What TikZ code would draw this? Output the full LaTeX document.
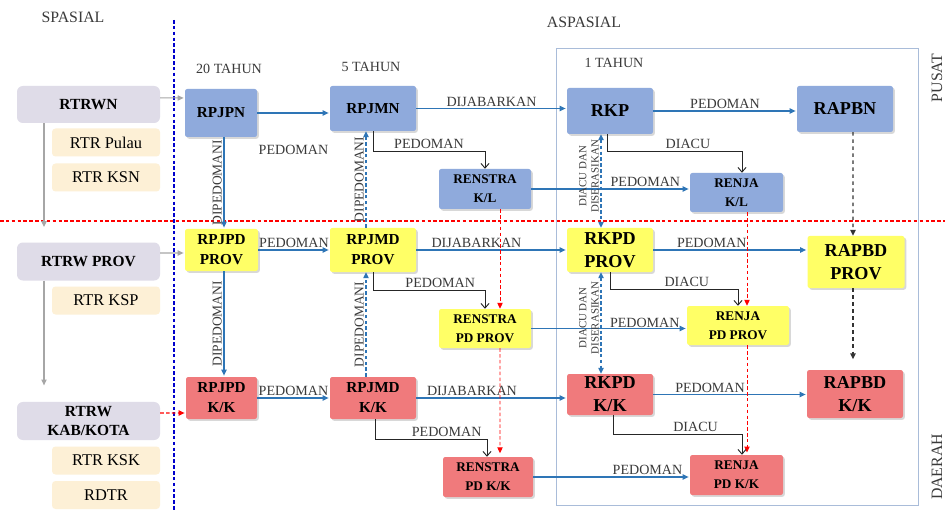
\documentclass[tikz,border=0pt]{standalone}
\usepackage{fontspec}
\setmainfont{Liberation Serif}
\usepackage{tikz}
\usetikzlibrary{arrows.meta, positioning, shadows}

\definecolor{pusatblue}{HTML}{8FAADC}
\definecolor{provyellow}{HTML}{FFFF66}
\definecolor{kkred}{HTML}{F07A7C}
\definecolor{lavender}{HTML}{DFDCE8}
\definecolor{peach}{HTML}{FDF0D6}
\definecolor{arrowblue}{HTML}{2E75B6}
\definecolor{framecol}{HTML}{A9BCD9}
\definecolor{labelgray}{HTML}{3A3A3A}

\tikzset{
  sz/.style 2 args={minimum width=#1*0.03cm, minimum height=#2*0.03cm}
}

\begin{document}
\begin{tikzpicture}[
  x=0.03cm, y=-0.03cm,
  plan/.style={rectangle, rounded corners=2pt, align=center, inner sep=1pt,
    drop shadow={shadow xshift=1.5pt, shadow yshift=-1.5pt, opacity=0.3}},
  pusat/.style={plan, fill=pusatblue},
  prov/.style={plan, fill=provyellow},
  kk/.style={plan, fill=kkred},
  fbig/.style={font=\bfseries\fontsize{15.5}{19.5}\selectfont},
  fmid/.style={font=\bfseries\fontsize{13}{17}\selectfont},
  fsmall/.style={font=\bfseries\fontsize{11.3}{16}\selectfont},
  spasial/.style={rectangle, rounded corners=5pt, fill=lavender, align=center,
    font=\bfseries\fontsize{13.2}{17}\selectfont},
  subplan/.style={rectangle, rounded corners=3pt, fill=peach,
    font=\fontsize{14}{16}\selectfont, sz={108}{28}},
  title/.style={font=\fontsize{13.5}{15}\selectfont, text=labelgray},
  period/.style={font=\fontsize{12}{14}\selectfont, text=labelgray},
  lbl/.style={font=\fontsize{12}{13}\selectfont, text=labelgray, inner sep=1.5pt},
  vlbl/.style={lbl, rotate=90, anchor=south, font=\fontsize{11.5}{13}\selectfont},
  dlbl/.style={lbl, rotate=90, anchor=south, align=center, font=\fontsize{9.3}{10.5}\selectfont},
  tip/.style={-{Triangle[length=5pt, width=4.5pt]}},
  arrow/.style={tip, draw=arrowblue, line width=0.9pt, shorten >=1pt},
  uparrow/.style={tip, draw=arrowblue, line width=0.9pt, densely dashed},
  twoway/.style={{Triangle[length=5pt, width=4.5pt]}-{Triangle[length=5pt, width=4.5pt]},
    draw=arrowblue, line width=0.9pt, densely dashed},
  elbow/.style={-{Straight Barb[length=4pt, width=7pt]}, draw=black!85, line width=0.8pt},
  reddash/.style={tip, draw=red, line width=0.8pt, densely dashed},
  blackdash/.style={tip, draw=black!80, line width=1.2pt, dashed},
  grayarrow/.style={tip, draw=gray!70, line width=0.9pt},
  redarrow/.style={tip, draw=red, line width=0.9pt, densely dashed}
]

\useasboundingbox[fill=white] (0,0) rectangle (945,510);

% Titles
\node[title] (spasialtitle) at (73,17) {SPASIAL};
\node[title] (aspasialtitle) at (584,22) {ASPASIAL};
\node[period] (t20) at (229,69) {20 TAHUN};
\node[period] (t5) at (371,67) {5 TAHUN};
\node[period] (t1) at (614,63) {1 TAHUN};
\node[title, rotate=90] (pusattitle) at (937,78) {PUSAT};
\node[title, rotate=90] (daerahtitle) at (937,467) {DAERAH};

% Frame and dividers
\draw[framecol, line width=0.6pt] (556,48) rectangle (918,505);
\draw[blue!80!black, densely dashed, line width=1pt] (174,20) -- (174,510);
\draw[red, densely dashed, line width=0.9pt] (0,221) -- (945,221);

% Spasial nodes
\node[spasial, sz={143}{37}] (rtrwn) at (88.5,104.5) {RTRWN};
\node[subplan] (rtrpulau) at (106,142.5) {RTR Pulau};
\node[subplan] (rtrksn) at (106,177.5) {RTR KSN};
\node[spasial, sz={143}{38}] (rtrwprov) at (88.5,261.5) {RTRW PROV};
\node[subplan] (rtrksp) at (106,300.5) {RTR KSP};
\node[spasial, sz={143}{38}] (rtrwkk) at (88.5,421) {RTRW\\KAB/KOTA};
\node[subplan] (rtrksk) at (106,460.5) {RTR KSK};
\node[subplan] (rdtr) at (106,495) {RDTR};

% Pusat
\node[pusat, fmid, sz={72}{48}] (rpjpn) at (221,113) {RPJPN};
\node[pusat, fmid, sz={86}{45}] (rpjmn) at (373,108.5) {RPJMN};
\node[pusat, fsmall, sz={92}{40}] (renstrakl) at (485,189) {RENSTRA\\K/L};
\node[pusat, fbig, sz={86}{46}] (rkp) at (610,111) {RKP};
\node[pusat, fsmall, sz={93}{39}] (renjakl) at (736.5,192.5) {RENJA\\K/L};
\node[pusat, fbig, sz={96}{46}] (rapbn) at (845,109) {RAPBN};

% Provinsi
\node[prov, fmid, sz={73}{42}] (rpjpdprov) at (221.5,250) {RPJPD\\PROV};
\node[prov, fmid, sz={86}{44}] (rpjmdprov) at (373,250) {RPJMD\\PROV};
\node[prov, fsmall, sz={92}{39}] (renstraprov) at (485,328.5) {RENSTRA\\PD PROV};
\node[prov, fbig, sz={86}{44}] (rkpdprov) at (610,250) {RKPD\\PROV};
\node[prov, fsmall, sz={102}{39}] (renjaprov) at (738,325.5) {RENJA\\PD PROV};
\node[prov, fbig, sz={97}{52}] (rapbdprov) at (856,262) {RAPBD\\PROV};

% Kabupaten/Kota
\node[kk, fmid, sz={71}{42}] (rpjpdkk) at (221.5,398) {RPJPD\\K/K};
\node[kk, fmid, sz={86}{42}] (rpjmdkk) at (373,398) {RPJMD\\K/K};
\node[kk, fsmall, sz={90}{40}] (renstrakk) at (488,477) {RENSTRA\\PD K/K};
\node[kk, fbig, sz={86}{41}] (rkpdkk) at (610,394.5) {RKPD\\K/K};
\node[kk, fsmall, sz={93}{40}] (renjakk) at (736.5,475) {RENJA\\PD K/K};
\node[kk, fbig, sz={96}{48}] (rapbdkk) at (855,394) {RAPBD\\K/K};

% Spasial arrows
\draw[grayarrow, shorten >=13pt] ([xshift=-1.335cm]rtrwn.south) -- ([xshift=-1.335cm]rtrwprov.north);
\draw[grayarrow, shorten >=14pt] ([xshift=-1.335cm]rtrwprov.south) -- ([xshift=-1.335cm]rtrwkk.north);
\draw[grayarrow, shorten >=1pt] ([yshift=0.2cm]rtrwn.east) -- ([yshift=0.45cm]rpjpn.west);
\draw[grayarrow, shorten >=1pt] ([yshift=0.255cm]rtrwprov.east) -- ([yshift=-0.09cm]rpjpdprov.west);
\draw[redarrow, shorten >=1pt] ([yshift=0.24cm]rtrwkk.east) -- ([yshift=-0.45cm]rpjpdkk.west);

% Horizontal arrows
\draw[arrow] (rpjpn.east) -- node[lbl, yshift=-1.1cm] {PEDOMAN} (rpjpn.east -| rpjmn.west);
\draw[arrow] (rpjmn.east) -- node[lbl, above] {DIJABARKAN} (rpjmn.east -| rkp.west);
\draw[arrow] (rkp.east) -- node[lbl, above] {PEDOMAN} (rkp.east -| rapbn.west);
\draw[arrow] (renstrakl.east) -- node[lbl, above, pos=0.72] {PEDOMAN} (renstrakl.east -| renjakl.west);

\draw[arrow] (rpjpdprov.east) -- node[lbl, above] {PEDOMAN} (rpjpdprov.east -| rpjmdprov.west);
\draw[arrow] (rpjmdprov.east) -- node[lbl, above, pos=0.4] {DIJABARKAN} (rpjmdprov.east -| rkpdprov.west);
\draw[arrow] (rkpdprov.east) -- node[lbl, above, pos=0.38] {PEDOMAN} (rkpdprov.east -| rapbdprov.west);
\draw[arrow] (renstraprov.east) -- node[lbl, above, pos=0.73, inner sep=0.5pt] {PEDOMAN} (renstraprov.east -| renjaprov.west);

\draw[arrow] (rpjpdkk.east) -- node[lbl, above] {PEDOMAN} (rpjpdkk.east -| rpjmdkk.west);
\draw[arrow] (rpjmdkk.east) -- node[lbl, above, pos=0.37] {DIJABARKAN} (rpjmdkk.east -| rkpdkk.west);
\draw[arrow] (rkpdkk.east) -- node[lbl, above, pos=0.37] {PEDOMAN} (rkpdkk.east -| rapbdkk.west);
\draw[arrow] (renstrakk.east) -- node[lbl, above, pos=0.73] {PEDOMAN} (renstrakk.east -| renjakk.west);

% Vertical arrows
\draw[arrow] ([xshift=0.09cm]rpjpn.south) -- node[vlbl] {DIPEDOMANI} ([xshift=0.075cm]rpjpdprov.north);
\draw[arrow] ([xshift=0.075cm]rpjpdprov.south) -- node[vlbl] {DIPEDOMANI} ([xshift=0.075cm]rpjpdkk.north);
\draw[uparrow] ([xshift=-0.21cm]rpjmdprov.north) -- node[vlbl] {DIPEDOMANI} ([xshift=-0.21cm]rpjmn.south);
\draw[uparrow] ([xshift=-0.21cm]rpjmdkk.north) -- node[vlbl] {DIPEDOMANI} ([xshift=-0.21cm]rpjmdprov.south);
\draw[twoway] ([xshift=-0.27cm]rkp.south) -- node[dlbl, pos=0.45] {DIACU DAN\\DISERASIKAN} ([xshift=-0.27cm]rkpdprov.north);
\draw[twoway] ([xshift=-0.27cm]rkpdprov.south) -- node[dlbl, pos=0.45] {DIACU DAN\\DISERASIKAN} ([xshift=-0.27cm]rkpdkk.north);

\draw[reddash] ([xshift=0.45cm]renstrakl.south) -- ([xshift=0.45cm]renstraprov.north);
\draw[reddash, shorten >=3pt] ([xshift=0.45cm]renstraprov.south) -- ([xshift=0.36cm]renstrakk.north);
\draw[reddash] ([xshift=0.315cm]renjakl.south) -- ([xshift=0.27cm]renjaprov.north);
\draw[reddash, shorten >=2pt] ([xshift=0.27cm]renjaprov.south) -- ([xshift=0.315cm]renjakk.north);
\draw[blackdash] ([xshift=0.24cm]rapbn.south) -- ([xshift=-0.09cm]rapbdprov.north);
\draw[blackdash, shorten >=9pt] ([xshift=-0.09cm]rapbdprov.south) -- ([xshift=-0.06cm]rapbdkk.north);

% Elbow arrows
\draw[elbow] (rpjmn.south) -- ++(0,20) -| node[lbl, above, pos=0.25] {PEDOMAN} (renstrakl.north);
\draw[elbow] ([xshift=-0.09cm]rkp.south) -- ++(0,17) -| node[lbl, above, pos=0.3] {DIACU} ([xshift=0.165cm]renjakl.north);
\draw[elbow] (rpjmdprov.south) -- ++(0,18) -| node[lbl, above, pos=0.3] {PEDOMAN} (renstraprov.north);
\draw[elbow] (rkpdprov.south) -- ++(0,17) -| node[lbl, above, pos=0.3] {DIACU} (renjaprov.north);
\draw[elbow] ([xshift=0.06cm]rpjmdkk.south) -- ++(0,20) -| node[lbl, above, pos=0.32] {PEDOMAN} ([xshift=-0.03cm]renstrakk.north);
\draw[elbow] ([xshift=0.09cm]rkpdkk.south) -- ++(0,19) -| node[lbl, above, pos=0.32] {DIACU} ([xshift=0.165cm]renjakk.north);

\end{tikzpicture}
\end{document}
